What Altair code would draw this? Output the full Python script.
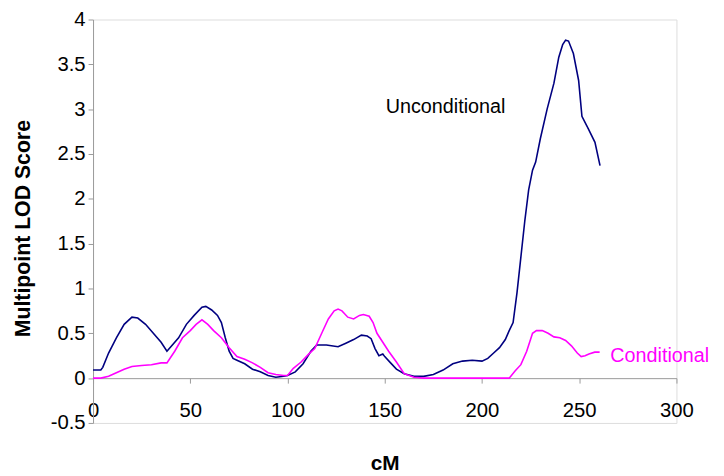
import altair as alt
import pandas as pd

# Unconditional (navy) curve
unc_cm = [0, 4, 5, 8, 12, 16, 20, 23, 27, 31, 35, 38, 40, 44, 48, 52, 56, 58, 61, 64, 66, 68, 70, 72,
          74, 78, 82, 86, 90, 94, 98, 100, 104, 108, 112, 115, 120, 126, 130, 134, 138, 141, 143, 145,
          147, 149, 150, 153, 156, 160, 165, 170, 175, 180, 185, 190, 195, 200, 203, 206, 209, 212, 214,
          216, 218, 220, 222, 224, 226, 227.6, 230, 233.5, 237, 239.5, 241.5, 243, 244.5, 247, 249.7,
          251.4, 254.7, 258.1, 260.7]
unc_lod = [0.09, 0.09, 0.12, 0.28, 0.45, 0.6, 0.68, 0.67, 0.6, 0.5, 0.4, 0.3, 0.35, 0.45, 0.6, 0.7,
           0.79, 0.8, 0.76, 0.7, 0.62, 0.45, 0.3, 0.22, 0.2, 0.16, 0.1, 0.07, 0.03, 0.01, 0.02, 0.03,
           0.07, 0.16, 0.3, 0.37, 0.37, 0.35, 0.39, 0.43, 0.48, 0.47, 0.44, 0.33, 0.25, 0.27, 0.24,
           0.17, 0.1, 0.05, 0.02, 0.02, 0.04, 0.09, 0.16, 0.19, 0.2, 0.19, 0.22, 0.28, 0.34, 0.43,
           0.53, 0.62, 0.95, 1.35, 1.75, 2.1, 2.32, 2.41, 2.67, 3.0, 3.29, 3.58, 3.72, 3.77, 3.76,
           3.62, 3.32, 2.92, 2.78, 2.63, 2.37]

# Conditional (magenta) curve
cond_cm = [0, 4, 8, 12, 16, 20, 25, 30, 35, 38, 42, 46, 50, 53, 56, 59, 62, 66, 70, 74, 78, 82, 86,
           90, 94, 98, 100, 103, 107, 111, 114, 118, 121, 124, 126, 128, 131, 134, 137, 139, 142, 144,
           146, 149, 152, 156, 160, 165, 170, 214, 217, 220, 223, 226, 228, 231, 234, 237, 240, 243,
           246, 249, 251, 253, 255, 258, 260.5]
cond_lod = [0, 0, 0.02, 0.06, 0.1, 0.13, 0.14, 0.15, 0.17, 0.17, 0.3, 0.45, 0.53, 0.6, 0.65, 0.6,
            0.53, 0.45, 0.34, 0.24, 0.21, 0.17, 0.12, 0.06, 0.04, 0.03, 0.03, 0.11, 0.18, 0.27, 0.33,
            0.52, 0.66, 0.75, 0.77, 0.75, 0.68, 0.66, 0.7, 0.71, 0.69, 0.62, 0.5, 0.4, 0.3, 0.18, 0.05,
            0.01, 0, 0, 0.08, 0.15, 0.3, 0.5, 0.53, 0.53, 0.5, 0.46, 0.45, 0.42, 0.36, 0.28, 0.24, 0.25,
            0.27, 0.29, 0.29]

series_names = ["Unconditional", "Conditional"]
series_colors = ["#000080", "#FF00FF"]

label_text = ["Unconditional", "Conditional"]
label_cm = [150.5, 266]
label_lod = [3.02, 0.25]
label_color = ["#000000", "#FF00FF"]

x_ticks = [0, 50, 100, 150, 200, 250, 300]
y_ticks = [-0.5, 0, 0.5, 1, 1.5, 2, 2.5, 3, 3.5, 4]

FONT = "Liberation Sans"

df = pd.concat([
    pd.DataFrame({"cm": unc_cm, "lod": unc_lod, "series": "Unconditional"}),
    pd.DataFrame({"cm": cond_cm, "lod": cond_lod, "series": "Conditional"}),
])
labels = pd.DataFrame({"text": label_text, "cm": label_cm, "lod": label_lod, "color": label_color})

xscale = alt.Scale(domain=[0, 300], nice=False, zero=False)
yscale = alt.Scale(domain=[-0.5, 4], nice=False, zero=False)

x_axis = alt.Axis(
    values=x_ticks, offset=-45.3, grid=False,
    domainColor="#9a9a9a", tickColor="#9a9a9a", tickSize=5,
    labelFont=FONT, labelFontSize=20.5, labelColor="black", labelPadding=28,
    labelBaseline="middle", labelFlush=False, labelOverlap=False,
    title="cM", titleFont=FONT, titleFontSize=21, titleFontWeight="bold",
    titleColor="black", titleX=295, titleY=86, titleAlign="center", titleBaseline="middle",
)
y_axis = alt.Axis(
    values=y_ticks, grid=False,
    domainColor="#9a9a9a", tickColor="#9a9a9a", tickSize=5,
    labelFont=FONT, labelFontSize=20.5, labelColor="black", labelPadding=3,
    labelExpr="toString(datum.value)", labelFlush=False, labelOverlap=False,
    title="Multipoint LOD Score", titleFont=FONT, titleFontSize=21.5, titleFontWeight="bold",
    titleColor="black", titleX=-70, titleY=211, titleAngle=270,
    titleAlign="center", titleBaseline="middle",
)

lines = alt.Chart(df).mark_line(strokeWidth=1.6).encode(
    x=alt.X("cm:Q", scale=xscale, axis=x_axis),
    y=alt.Y("lod:Q", scale=yscale, axis=y_axis),
    color=alt.Color("series:N", scale=alt.Scale(domain=series_names, range=series_colors), legend=None),
    detail="series:N",
)

texts = alt.Chart(labels).mark_text(align="left", baseline="middle", font=FONT, fontSize=20).encode(
    x=alt.X("cm:Q", scale=xscale),
    y=alt.Y("lod:Q", scale=yscale),
    text="text:N",
    color=alt.Color("color:N", scale=None),
)

chart = alt.layer(lines, texts).properties(
    width=590, height=408,
    autosize=alt.AutoSizeParams(type="none"),
    padding={"left": 86, "top": 9, "right": 40, "bottom": 51},
).configure_view(stroke=None).configure(background="white")

chart.save("out.html", embed_options={"renderer": "svg", "actions": False})
